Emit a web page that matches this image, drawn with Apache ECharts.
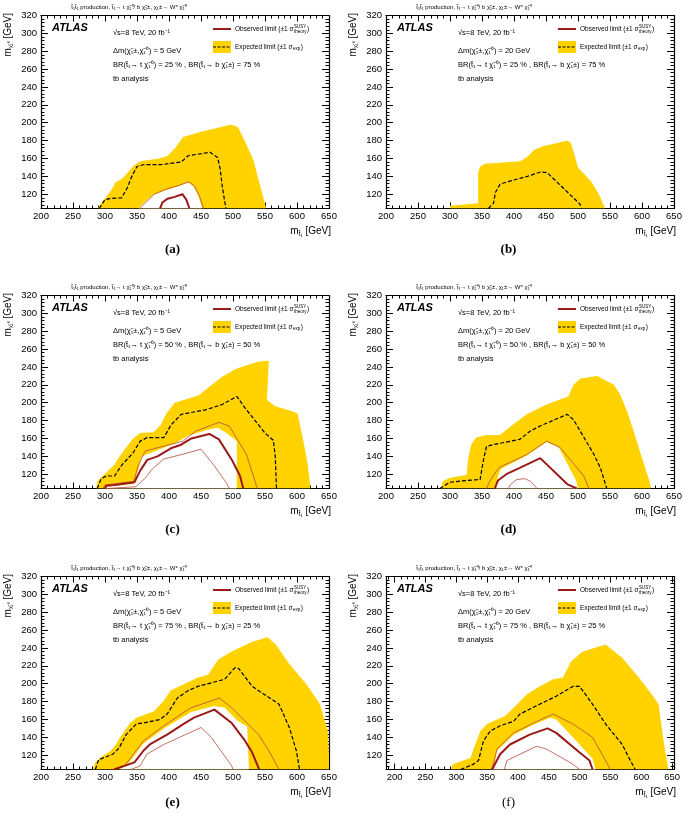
<!DOCTYPE html>
<html><head><meta charset="utf-8">
<script src="https://cdn.jsdelivr.net/npm/echarts@6/dist/echarts.min.js"></script>
<style>html,body{margin:0;padding:0;background:#fff}#c{width:685px;height:817px}</style>
</head><body><div id="c"></div>
<script>
// ---------- axis ticks ----------
const xMajorTicks = [200,250,300,350,400,450,500,550,600,650];
const xMinorTicks = [190,210,220,230,240,260,270,280,290,310,320,330,340,360,370,380,390,410,420,430,440,460,470,480,490,510,520,530,540,560,570,580,590,610,620,630,640];
const yMajorTicks = [120,140,160,180,200,220,240,260,280,300,320];
const panelLabels = ['(a)','(b)','(c)','(d)','(e)','(f)'];
const dmValues = ['5','20','5','20','5','20'];
const brTop = ['25','25','50','50','75','75'];
const brBottom = ['75','75','50','50','25','25'];
const xRanges = [[200,650],[200,650],[200,650],[200,650],[200,650],[186,653]];

// ---------- (a) ----------
const a_outer = [[289,104],[291,107],[297,113],[303,118],[312,127],[316,133],[326,137],[333,142],[345,152],[355,157],[385,160],[398,163],[410,172],[422,184],[450,190],[475,194],[497,198],[508,195],[520,177],[532,158],[540,136],[546,120],[552,104]];
const a_hole = [[352,104],[362,111],[375,119],[392,124],[415,129],[430,133],[438,129],[446,118],[452,104]];
const a_obsUp = [[354,104],[364,111],[377,120],[393,125],[416,130],[431,134],[440,129],[448,117],[454,104]];
const a_obs = [[386,104],[390,111],[398,115],[409,117],[421,120],[427,114],[432,104]];
const a_obsDown = [];
const a_exp = [[291,104],[300,114],[307,115],[326,116],[334,126],[342,140],[350,151],[360,153],[387,153],[419,156],[430,163],[447,165],[464,167],[476,161],[480,148],[483,130],[487,112],[489,104]];
// ---------- (b) ----------
const b_outer = [[300,104],[300,107],[344,110],[344,144],[347,151],[355,154],[410,157],[421,162],[432,170],[447,174],[484,180],[489,177],[495,163],[500,150],[521,134],[534,118],[542,104]];
const b_hole = [];
const b_obsUp = [];
const b_obs = [];
const b_obsDown = [];
const b_exp = [[360,104],[368,110],[371,122],[378,131],[390,134],[421,140],[442,145],[452,144],[503,109],[505,104]];
// ---------- (c) ----------
const c_outer = [[286,104],[288,112],[302,122],[315,131],[320,137],[331,148],[344,160],[355,166],[376,167],[387,175],[395,187],[409,200],[446,208],[467,220],[483,229],[505,238],[540,246],[556,247],[553,203],[566,196],[590,191],[601,188],[610,157],[617,130],[621,104]];
const c_hole = [[300,104],[300,106],[345,109],[358,140],[408,154],[430,163],[462,170],[476,172],[490,166],[506,157],[506,104]];
const c_obsUp = [[297,104],[300,108],[345,112],[352,130],[363,146],[422,157],[441,168],[478,178],[494,174],[521,142],[538,104]];
const c_obs = [[300,104],[302,107],[315,108],[346,111],[355,124],[366,136],[382,140],[403,149],[419,153],[435,160],[463,165],[478,159],[499,135],[511,118],[516,104]];
const c_obsDown = [[303,104],[348,106],[362,115],[374,126],[392,137],[425,143],[450,148],[470,130],[490,110],[494,104]];
const c_exp = [[288,104],[294,115],[302,118],[315,118],[326,130],[344,144],[355,157],[366,161],[392,161],[403,175],[419,187],[457,192],[483,198],[506,207],[519,194],[550,166],[563,158],[566,140],[568,104]];
// ---------- (d) ----------
const d_outer = [[286,104],[289,112],[300,116],[326,119],[328,135],[333,153],[341,161],[357,164],[378,164],[399,176],[420,187],[451,198],[485,207],[493,220],[504,227],[530,230],[556,220],[566,209],[577,190],[587,168],[600,138],[613,109],[614,104]];
const d_hole = [[372,104],[375,118],[380,126],[420,141],[451,156],[470,150],[497,113],[500,104]];
const d_obsUp = [[357,104],[362,112],[373,124],[378,128],[420,142],[451,157],[472,150],[509,118],[517,104]];
const d_obs = [[370,104],[375,113],[388,120],[409,127],[441,138],[483,109],[498,104]];
const d_obsDown = [[391,104],[394,108],[404,114],[417,115],[426,112],[436,104]];
const d_exp = [[284,104],[300,111],[326,113],[347,114],[352,135],[357,151],[367,153],[409,159],[425,168],[441,174],[483,187],[493,181],[525,142],[535,127],[545,104]];
// ---------- (e) ----------
const e_outer = [[281,104],[285,112],[296,119],[309,125],[317,132],[322,138],[338,155],[349,162],[365,166],[376,169],[392,181],[402,192],[445,207],[461,210],[477,227],[498,236],[530,247],[554,252],[567,244],[588,222],[615,199],[636,177],[648,147],[650,120],[650,104]];
const e_hole = [[322,104],[338,112],[360,133],[392,150],[434,168],[470,175],[487,173],[508,158],[522,152],[525,104]];
const e_obsUp = [[314,104],[330,108],[338,115],[360,136],[392,153],[434,173],[479,184],[498,173],[540,143],[556,125],[572,104]];
const e_obs = [[314,104],[346,112],[360,125],[370,132],[397,143],[423,155],[439,162],[471,171],[498,156],[519,136],[530,123],[541,104]];
const e_obsDown = [[340,104],[355,108],[365,121],[392,132],[450,151],[466,140],[498,108],[500,104]];
const e_exp = [[285,104],[290,115],[301,118],[312,121],[322,128],[333,143],[349,155],[360,156],[386,160],[397,166],[413,184],[429,192],[445,197],[487,205],[503,218],[509,217],[530,197],[572,177],[588,151],[599,125],[604,104]];
// ---------- (f) ----------
const f_outer = [[291,104],[294,110],[323,117],[328,127],[339,147],[350,155],[366,160],[379,164],[393,173],[414,188],[435,197],[457,205],[473,207],[486,225],[505,236],[542,244],[569,229],[596,207],[617,188],[628,177],[636,136],[644,104]];
const f_hole = [[360,104],[366,125],[393,143],[425,154],[452,162],[462,160],[489,140],[521,116],[526,104]];
const f_obsUp = [[357,104],[360,110],[366,127],[393,145],[425,156],[457,166],[489,155],[521,140],[550,104]];
const f_obs = [[358,104],[371,121],[387,132],[419,143],[448,150],[462,145],[500,123],[516,114],[521,104]];
const f_obsDown = [[378,104],[382,114],[430,130],[446,127],[489,110],[500,104]];
const f_exp = [[307,104],[328,110],[336,114],[344,136],[355,147],[371,153],[393,158],[403,166],[435,177],[462,186],[489,197],[500,197],[521,177],[542,155],[569,132],[580,117],[590,104]];

const panelData = [
  [a_outer,a_hole,a_obsUp,a_obs,a_obsDown,a_exp],
  [b_outer,b_hole,b_obsUp,b_obs,b_obsDown,b_exp],
  [c_outer,c_hole,c_obsUp,c_obs,c_obsDown,c_exp],
  [d_outer,d_hole,d_obsUp,d_obs,d_obsDown,d_exp],
  [e_outer,e_hole,e_obsUp,e_obs,e_obsDown,e_exp],
  [f_outer,f_hole,f_obsUp,f_obs,f_obsDown,f_exp]
];

// ---------- styling / layout ----------
const YELLOW = '#ffd200', RED = '#9a1a1a', THIN = '#b84a3a';
const FONT = 'Liberation Sans, Arial, sans-serif';
const colX = [0, 345];
const rowY = [0, 280, 561];
const GL = 41, GT = 15.5, GW = 288, GH = 193;
const Y_MIN = 104, Y_MAX = 320;

const grids = [], xAxes = [], yAxes = [], series = [], graphics = [];
const ctx = document.createElement('canvas').getContext('2d');
function tw(t, f){ ctx.font = f; return ctx.measureText(t).width; }

function polySeries(pts, color, xi, yi, z){
  return {type:'custom', xAxisIndex:xi, yAxisIndex:yi, clip:true, silent:true, z:z,
    data: pts,
    renderItem: function(params, api){
      if (params.dataIndex !== 0) return null;
      return {type:'polygon', shape:{points: pts.map(p => api.coord(p))}, style:{fill:color}};
    }};
}
function lineSeries(pts, color, width, type, xi, yi, z){
  return {type:'line', xAxisIndex:xi, yAxisIndex:yi, data: pts, showSymbol:false, symbol:'none',
    silent:true, z:z, clip:true, animation:false,
    lineStyle:{color:color, width:width, type:type}};
}
const axisLine = {show:true, onZero:false, lineStyle:{color:'#000', width:1.2}};
const tickStyle = {color:'#000', width:1};

for (let i = 0; i < 6; i++) {
  const c = i % 2, r = Math.floor(i / 2);
  const ox = colX[c], oy = rowY[r];
  const [xmin, xmax] = xRanges[i];
  grids.push({left: GL + ox, top: GT + oy, width: GW, height: GH});
  const xi = xAxes.length, yi = yAxes.length;
  const minorX = xMinorTicks.filter(v => v > xmin && v < xmax);
  const xMajorAxis = {type:'value', gridIndex:i, min:xmin, max:xmax,
    axisLine: axisLine, splitLine:{show:false},
    axisTick:{show:true, inside:true, length:6, customValues: xMajorTicks, lineStyle:tickStyle}};
  const xMinorAxis = {type:'value', gridIndex:i, min:xmin, max:xmax,
    axisLine:{show:false}, splitLine:{show:false}, axisLabel:{show:false},
    axisTick:{show:true, inside:true, length:3, customValues: minorX, lineStyle:tickStyle}};
  xAxes.push(Object.assign({}, xMajorAxis, {position:'bottom',
    axisLabel:{show:true, margin:3, color:'#000', fontSize:9.5, fontFamily:FONT, customValues: xMajorTicks}}));
  xAxes.push(Object.assign({}, xMajorAxis, {position:'top', axisLabel:{show:false}}));
  xAxes.push(Object.assign({}, xMinorAxis, {position:'bottom'}));
  xAxes.push(Object.assign({}, xMinorAxis, {position:'top'}));
  const yMinor = {type:'value', gridIndex:i, min:Y_MIN, max:Y_MAX, interval:4,
    axisLine: axisLine, splitLine:{show:false},
    axisTick:{show:true, inside:true, length:3.5, lineStyle:tickStyle}};
  const yMajor = {type:'value', gridIndex:i, min:Y_MIN, max:Y_MAX, interval:4,
    axisLine:{show:false}, splitLine:{show:false}, axisLabel:{show:false},
    axisTick:{show:true, inside:true, length:7, customValues: yMajorTicks, lineStyle:tickStyle}};
  yAxes.push(Object.assign({}, yMinor, {position:'left',
    axisLabel:{show:true, margin:4, color:'#000', fontSize:9.5, fontFamily:FONT, customValues: yMajorTicks}}));
  yAxes.push(Object.assign({}, yMajor, {position:'left'}));
  yAxes.push(Object.assign({}, yMinor, {position:'right', axisLabel:{show:false}}));
  yAxes.push(Object.assign({}, yMajor, {position:'right'}));

  const [outer, hole, obsUp, obs, obsDown, exp] = panelData[i];
  series.push(polySeries(outer, YELLOW, xi, yi, 1));
  if (hole.length) series.push(polySeries(hole, '#ffffff', xi, yi, 2));
  if (obsUp.length) series.push(lineSeries(obsUp, THIN, 0.8, 'solid', xi, yi, 3));
  if (obsDown.length) series.push(lineSeries(obsDown, THIN, 0.8, 'solid', xi, yi, 3));
  if (obs.length) series.push(lineSeries(obs, RED, 2, 'solid', xi, yi, 4));
  if (exp.length) series.push(lineSeries(exp, '#000', 1.2, [4,2], xi, yi, 5));

  // ---- texts ----
  const hdr = 't\u0303\u2081t\u0303\u2081 production, t\u0303\u2081\u2192 t \u03c7\u0303\u2081\u2070/ b \u03c7\u0303\u2081\u00b1, \u03c7\u2081\u00b1\u2192 W* \u03c7\u0303\u2081\u2070';
  graphics.push({type:'text', x: 129 + ox, y: 7 + oy, silent:true,
    style:{text: hdr, font: '6px ' + FONT, fill:'#000', align:'center', verticalAlign:'middle'}});
  graphics.push({type:'text', x: 52 + ox, y: 28 + oy, silent:true,
    style:{text:'ATLAS', font:'italic bold 11px ' + FONT, fill:'#000', verticalAlign:'middle'}});
  const lines = [
    '\u221as=8 TeV, 20 fb\u207b\u00b9',
    '\u0394m(\u03c7\u0303\u2081\u00b1,\u03c7\u0303\u2081\u2070) = ' + dmValues[i] + ' GeV',
    'BR(t\u0303\u2081\u2192 t \u03c7\u0303\u2081\u2070) = ' + brTop[i] + ' % , BR(t\u0303\u2081\u2192 b \u03c7\u0303\u2081\u00b1) = ' + brBottom[i] + ' %',
    'tb analysis'];
  const ly = [33, 51, 65, 79];
  lines.forEach((t, k) => graphics.push({type:'text', x: 113 + ox, y: ly[k] + oy, silent:true,
    style:{text:t, font:'7.5px ' + FONT, fill:'#000', verticalAlign:'middle'}}));
  // legend
  graphics.push({type:'line', silent:true, shape:{x1:213+ox, y1:29+oy, x2:231+ox, y2:29+oy},
    style:{stroke:RED, lineWidth:2}});
  graphics.push({type:'rect', silent:true, shape:{x:213+ox, y:41+oy, width:18, height:12}, style:{fill:YELLOW}});
  graphics.push({type:'line', silent:true, shape:{x1:213+ox, y1:47+oy, x2:231+ox, y2:47+oy},
    style:{stroke:'#000', lineWidth:1.2, lineDash:[3,1.5]}});
  const lf = '6.5px ' + FONT, sf = '4.5px ' + FONT;
  const t1 = 'Observed limit (\u00b11 \u03c3';
  const w1 = tw(t1, lf);
  graphics.push({type:'text', x:235+ox, y:29+oy, silent:true, style:{text:t1, font:lf, fill:'#000', verticalAlign:'middle'}});
  graphics.push({type:'text', x:235+ox+w1+0.5, y:26.5+oy, silent:true, style:{text:'SUSY', font:sf, fill:'#000', verticalAlign:'middle'}});
  graphics.push({type:'text', x:235+ox+w1+0.5, y:31.5+oy, silent:true, style:{text:'theory', font:sf, fill:'#000', verticalAlign:'middle'}});
  graphics.push({type:'text', x:235+ox+w1+0.5+tw('theory', sf)+0.5, y:29+oy, silent:true, style:{text:')', font:lf, fill:'#000', verticalAlign:'middle'}});
  const t2 = 'Expected limit (\u00b11 \u03c3';
  const w2 = tw(t2, lf);
  graphics.push({type:'text', x:235+ox, y:47+oy, silent:true, style:{text:t2, font:lf, fill:'#000', verticalAlign:'middle'}});
  graphics.push({type:'text', x:235+ox+w2+0.5, y:49+oy, silent:true, style:{text:'exp', font:sf, fill:'#000', verticalAlign:'middle'}});
  graphics.push({type:'text', x:235+ox+w2+1+tw('exp', sf), y:47+oy, silent:true, style:{text:')', font:lf, fill:'#000', verticalAlign:'middle'}});
  // axis titles
  graphics.push({type:'text', x: 331 + ox, y: 232 + oy, silent:true,
    style:{text:'{m|m}{s|t\u0303\u2081}{m| [GeV]}', align:'right', verticalAlign:'middle',
      rich:{m:{font:'10px ' + FONT, fill:'#000', verticalAlign:'top'}, s:{font:'6.5px ' + FONT, fill:'#000', verticalAlign:'bottom', padding:[4,0,0,0]}}}});
  graphics.push({type:'text', x: 8 + ox, y: 13 + oy, rotation: Math.PI/2, silent:true,
    style:{text:'{m|m}{s|\u03c7\u0303\u2081\u2070}{m| [GeV]}', align:'right', verticalAlign:'middle',
      rich:{m:{font:'10px ' + FONT, fill:'#000'}, s:{font:'5.5px ' + FONT, fill:'#000', padding:[5,0,0,0]}}}});
  // panel label
  graphics.push({type:'text', x: 172.5 + c*336, y: [250, 530, 803][r], silent:true,
    style:{text: panelLabels[i], font:(i===5 ? '' : 'bold ') + '13px Liberation Serif, serif', fill:'#000', align:'center', verticalAlign:'middle'}});
}

const chart = echarts.init(document.getElementById('c'), null, {renderer:'canvas'});
chart.setOption({
  animation:false, backgroundColor:'#fff',
  grid: grids, xAxis: xAxes, yAxis: yAxes, series: series, graphic: graphics
});
</script></body></html>
